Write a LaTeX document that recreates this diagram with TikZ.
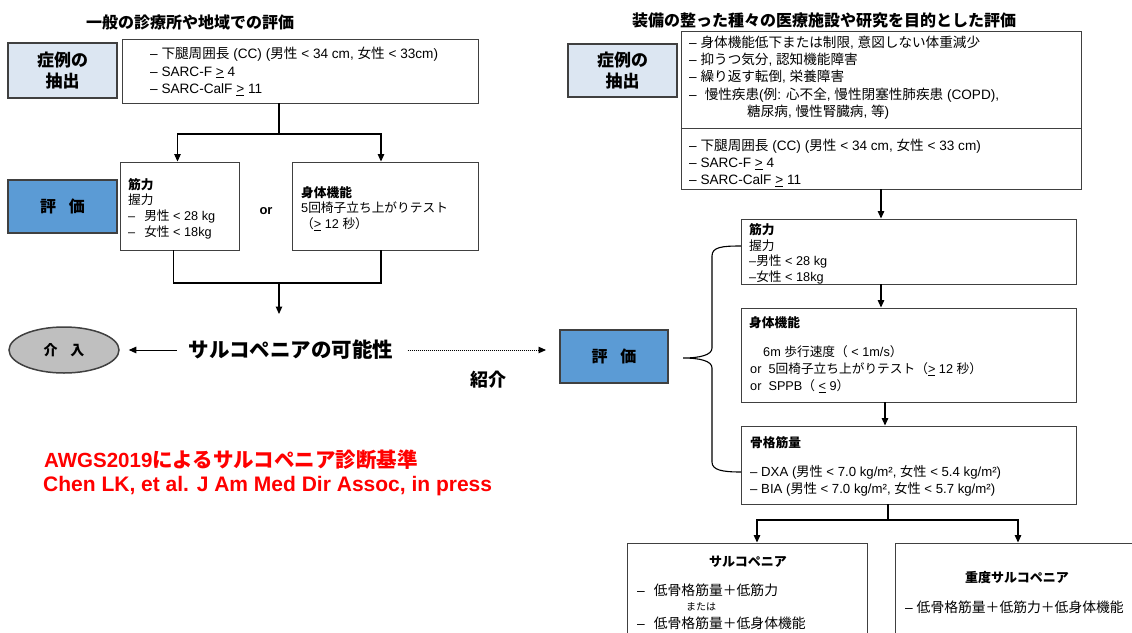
\documentclass[tikz,border=0pt]{standalone}
\usepackage{fontspec}
\setmainfont{Liberation Sans}
\newfontfamily\cjkf{Noto Sans CJK JP}
\usetikzlibrary{arrows.meta,calc,shapes.geometric}

\XeTeXinterchartokenstate=1
\newXeTeXintercharclass\cjkcls
\newcount\cjkc
\def\setcjkrange#1#2{\cjkc=#1\relax\loop\XeTeXcharclass\cjkc=\cjkcls\relax\ifnum\cjkc<#2\relax\advance\cjkc by 1\repeat}
\setcjkrange{"3000}{"30FF}
\setcjkrange{"4E00}{"9FFF}
\setcjkrange{"FF00}{"FFEF}
\XeTeXinterchartoks 0 \cjkcls = {\cjkf}
\XeTeXinterchartoks 4095 \cjkcls = {\cjkf}
\XeTeXinterchartoks \cjkcls 0 = {\rmfamily}
\XeTeXinterchartoks \cjkcls 4095 = {\rmfamily}

\definecolor{hdrblue}{HTML}{DCE6F2}
\definecolor{evalblue}{HTML}{5B9BD5}
\definecolor{intgray}{HTML}{BFBFBF}
\definecolor{edge}{HTML}{404040}
\newcommand\bxfont{\fontsize{13.6}{17.25}\selectfont}
\newcommand\smfont{\fontsize{12.7}{15.6}\selectfont}

\begin{document}
\begin{tikzpicture}[x=1pt,y=-1pt,
  box/.style={draw=edge, line width=0.9pt, fill=white, inner sep=0pt},
  hdrbox/.style={draw=edge, line width=2pt, fill=hdrblue, inner sep=0pt, align=center,
                 font=\fontsize{17}{21}\selectfont\bfseries},
  evalbox/.style={draw=edge, line width=2pt, fill=evalblue, inner sep=0pt,
                  font=\fontsize{16}{19}\selectfont\bfseries},
  ttl/.style={inner sep=0pt, font=\fontsize{16}{19}\selectfont\bfseries},
  txt/.style={inner sep=0pt, anchor=west, align=left},
  arr/.style={-{Triangle[length=7.5pt,width=6.5pt]}, line width=1.1pt, draw=black},
  ln/.style={line width=1.1pt, draw=black}
]
\useasboundingbox (0,0) rectangle (1132,632);
\clip (0,0) rectangle (1132,632);
\fill[white] (0,0) rectangle (1132,632);

% ---------------- left side ----------------
\node[ttl] (lt) at (190,22) {一般の診療所や地域での評価};
\node[hdrbox, minimum width=109pt, minimum height=55pt] (lh) at (62.5,70.5) {症例の\\抽出};
\node[box, minimum width=356pt, minimum height=64pt] (lc) at (300,71) {};
\node[txt, font=\bxfont] (lct) at (150,71.5) {– 下腿周囲長 (CC) (男性 < 34 cm, 女性 < 33cm)\\– SARC-F \underline{>} 4\\– SARC-CalF \underline{>} 11};

\node[evalbox, minimum width=109pt, minimum height=53pt] (le) at (62.5,206.5) {評\hspace{0.8em}価};
\node[box, minimum width=119pt, minimum height=88pt] (lk) at (179.5,206) {};
\node[txt, font=\smfont] (lkt) at (128,208.5) {{\bfseries 筋力}\\握力\\–\hspace{9pt}男性 < 28 kg\\–\hspace{9pt}女性 < 18kg};
\node[font=\fontsize{13}{15}\selectfont\bfseries, inner sep=0pt] (or1) at (266,211) {or};
\node[box, minimum width=186pt, minimum height=88pt] (lp) at (385,206) {};
\node[txt, font=\smfont] (lpt) at (301,208.5) {{\bfseries 身体機能}\\5回椅子立ち上がりテスト\\（\underline{>} 12 秒）};

\coordinate (lj) at (279,134);
\draw[ln] (lc.south -| lj) -- (lj);
\draw[arr] (lj) -| ($(lk.north)+(-2,0)$);
\draw[arr] (lj) -| ($(lp.north)+(-4,0)$);
\coordinate (lb) at (279,283);
\draw[ln] ($(lk.south)+(-6,0)$) |- (lb) -| ($(lp.south)+(-4,0)$);
\coordinate (la) at (279,314);
\draw[arr] (lb) -- (la);

\node[font=\fontsize{20.5}{24}\selectfont\bfseries, inner sep=0pt] (poss) at (291,350) {サルコペニアの可能性};
\node[ellipse, draw=edge, line width=1.5pt, fill=intgray, minimum width=110pt, minimum height=46pt,
      inner sep=0pt, font=\fontsize{14}{16}\selectfont\bfseries] (ell) at (64,350) {介\hspace{0.9em}入};
\draw[arr, line width=1pt, shorten <=12pt, shorten >=9pt] (poss.west) -- (ell.east);

\node[font=\fontsize{18}{20}\selectfont\bfseries, inner sep=0pt] (shokai) at (488,380) {紹介};

\node[txt, text=red, font=\fontsize{20.5}{24}\selectfont\bfseries] (red1) at (44,460) {AWGS2019によるサルコペニア診断基準};
\node[txt, text=red, font=\fontsize{21}{24}\selectfont\bfseries] (red2) at (43,486) {Chen LK, et al. J Am Med Dir Assoc, in press};

% ---------------- right side ----------------
\node[ttl] (rt) at (824,20) {装備の整った種々の医療施設や研究を目的とした評価};
\node[hdrbox, minimum width=109pt, minimum height=53pt] (rh) at (622.5,70.5) {症例の\\抽出};
\node[box, minimum width=400pt, minimum height=158pt] (rc) at (881,110) {};
\draw[line width=0.9pt, draw=edge] (rc.west |- 0,128) -- (rc.east |- 0,128);
\node[txt, font=\bxfont] (rct1) at (689,77.5) {– 身体機能低下または制限, 意図しない体重減少\\– 抑うつ気分, 認知機能障害\\– 繰り返す転倒, 栄養障害\\–\hspace{8pt}慢性疾患(例: 心不全, 慢性閉塞性肺疾患 (COPD),\\\hspace*{58pt}糖尿病, 慢性腎臓病, 等)};
\node[txt, font=\bxfont] (rct2) at (689,163) {– 下腿周囲長 (CC) (男性 < 34 cm, 女性 < 33 cm)\\– SARC-F \underline{>} 4\\– SARC-CalF \underline{>} 11};

\node[evalbox, minimum width=108pt, minimum height=53pt] (re) at (614,356.5) {評\hspace{0.8em}価};
\draw[arr, line width=0.9pt, dash pattern=on 1pt off 1pt, shorten <=14pt, shorten >=13pt] (poss.east) -- (poss.east -| re.west);

\node[box, minimum width=335pt, minimum height=65pt] (rk) at (908.5,251.5) {};
\node[txt, font=\smfont] (rkt) at (749,254) {{\bfseries 筋力}\\握力\\–男性 < 28 kg\\–女性 < 18kg};

\node[box, minimum width=335pt, minimum height=94pt] (rp) at (908.5,355) {};
\node[txt, font=\smfont\bfseries] (rpt1) at (749,323) {身体機能};
\node[txt, font=\fontsize{12.7}{17}\selectfont] (rpt2) at (750,369) {\hspace*{13pt}6m 歩行速度（ < 1m/s）\\or\ \ 5回椅子立ち上がりテスト（\underline{>} 12 秒）\\or\ \ SPPB（ \underline{<} 9）};

\node[box, minimum width=335pt, minimum height=78pt] (rm) at (908.5,465) {};
\node[txt, font=\smfont\bfseries] (rmt1) at (750,443) {骨格筋量};
\node[txt, font=\fontsize{13.2}{17}\selectfont] (rmt2) at (750,480.5) {– DXA (男性 < 7.0 kg/m², 女性 < 5.4 kg/m²)\\– BIA (男性 < 7.0 kg/m², 女性 < 5.7 kg/m²)};

\draw[ln, line width=1.1pt] (741,246) .. controls (722,246) and (712,247) .. (712,256) -- (712,348)
  .. controls (712,355) and (700,358) .. (683,358)
  .. controls (700,358) and (712,361) .. (712,368) -- (712,462)
  .. controls (712,470) and (722,472) .. (741,472);

\node[box, minimum width=240pt, minimum height=107pt] (rs) at (747,596.5) {};
\node[font=\fontsize{13}{15}\selectfont\bfseries, inner sep=0pt] (rst) at (748,562) {サルコペニア};
\node[txt, font=\fontsize{13.8}{17}\selectfont] (rsl1) at (637,590) {–\hspace{9pt}低骨格筋量＋低筋力};
\node[font=\fontsize{10}{12}\selectfont, inner sep=0pt] (rsor) at (701,607) {または};
\node[txt, font=\fontsize{13.8}{17}\selectfont] (rsl2) at (637,623) {–\hspace{9pt}低骨格筋量＋低身体機能};

\node[box, minimum width=255pt, minimum height=107pt] (rv) at (1022.5,596.5) {};
\node[font=\fontsize{13}{15}\selectfont\bfseries, inner sep=0pt] (rvt) at (1017,578) {重度サルコペニア};
\node[txt, font=\fontsize{13.8}{17}\selectfont] (rvl) at (905,607) {– 低骨格筋量＋低筋力＋低身体機能};

\draw[arr] (rc.south) -- (rc.south |- rk.north);
\draw[arr] (rc.south |- rk.south) -- (rc.south |- rp.north);
\coordinate (rx) at (885,0);
\draw[arr] (rx |- rp.south) -- (rx |- rm.north);
\coordinate (rj) at (888,520);
\draw[ln] (rj |- rm.south) -- (rj);
\draw[arr] (rj) -| ($(rs.north)+(10,0)$);
\draw[arr] (rj) -| ($(rv.north)+(-4.5,0)$);
\end{tikzpicture}
\end{document}
